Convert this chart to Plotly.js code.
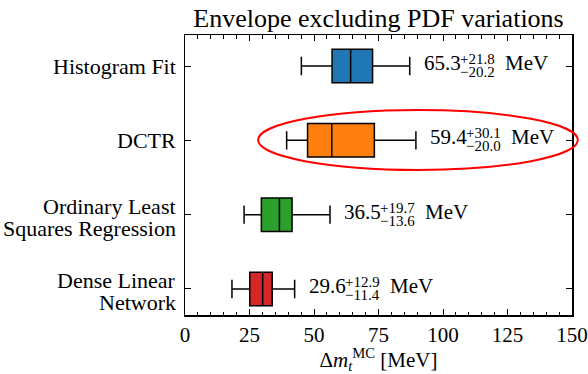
<!DOCTYPE html>
<html>
<head>
<meta charset="utf-8">
<script src="https://cdn.plot.ly/plotly-3.0.1.min.js"></script>
<style>html,body{margin:0;padding:0;background:#fff;}#chart{width:588px;height:374px;}</style>
</head>
<body>
<div id="chart"></div>
<script>
// Data (top to bottom in the picture)
const methods = ["Histogram Fit", "DCTR", "Ordinary Least Squares Regression", "Dense Linear Network"];
const labelLines = [["Histogram Fit"], ["DCTR"], ["Ordinary Least", "Squares Regression"], ["Dense Linear", "Network"]];
const colors = ["#1f77b4", "#ff7f0e", "#2ca02c", "#d62728"];
const central = [65.3, 59.4, 36.5, 29.6];
const plusErr = [21.8, 30.1, 19.7, 12.9];
const minusErr = [20.2, 20.0, 13.6, 11.4];
const q1 = [57.0, 47.5, 29.6, 25.1];
const median = [64.2, 56.9, 36.6, 30.1];
const q3 = [72.7, 73.4, 41.5, 33.8];
const xTicks = [0, 25, 50, 75, 100, 125, 150];

const FONT = "Liberation Serif, Times New Roman, serif";

const traces = methods.map((m, i) => ({
  type: "box",
  orientation: "h",
  y: [m],
  q1: [q1[i]],
  median: [median[i]],
  q3: [q3[i]],
  lowerfence: [central[i] - minusErr[i]],
  upperfence: [central[i] + plusErr[i]],
  width: 0.45,
  whiskerwidth: 0.55,
  fillcolor: colors[i],
  line: {color: "#000", width: 1.5},
  boxpoints: false,
  hoverinfo: "skip",
  showlegend: false
}));

const annotations = [];
methods.forEach((m, i) => {
  const xu = central[i] + plusErr[i];
  annotations.push({x: xu, y: m, xref: "x", yref: "y", text: central[i].toFixed(1),
    showarrow: false, xanchor: "left", yanchor: "middle", xshift: 12, yshift: 3,
    font: {family: FONT, size: 21, color: "#000"}});
  annotations.push({x: xu, y: m, xref: "x", yref: "y", text: "+" + plusErr[i].toFixed(1),
    showarrow: false, xanchor: "left", yanchor: "middle", xshift: 48, yshift: 7,
    font: {family: FONT, size: 15, color: "#000"}});
  annotations.push({x: xu, y: m, xref: "x", yref: "y", text: "\u2212" + minusErr[i].toFixed(1),
    showarrow: false, xanchor: "left", yanchor: "middle", xshift: 48, yshift: -6,
    font: {family: FONT, size: 15, color: "#000"}});
  annotations.push({x: xu, y: m, xref: "x", yref: "y", text: "MeV",
    showarrow: false, xanchor: "left", yanchor: "middle", xshift: 93, yshift: 3,
    font: {family: FONT, size: 21, color: "#000"}});
  // category labels (left of the axis), one annotation per line
  const lines = labelLines[i];
  const shifts = lines.length === 1 ? [0] : [8, -14];
  lines.forEach((ln, k) => {
    annotations.push({x: 0, y: m, xref: "paper", yref: "y", text: ln,
      showarrow: false, xanchor: "right", yanchor: "middle", xshift: -7, yshift: shifts[k],
      font: {family: FONT, size: 22, color: "#000"}});
  });
});

const layout = {
  width: 588, height: 374,
  margin: {l: 185, r: 16, t: 35, b: 59, pad: 0},
  paper_bgcolor: "#fff", plot_bgcolor: "#fff",
  font: {family: FONT, size: 21, color: "#000"},
  title: {text: "Envelope excluding PDF variations", font: {family: FONT, size: 26, color: "#000"},
    x: 0.5, xref: "paper", xanchor: "center", y: 0.952, yanchor: "middle"},
  boxmode: "overlay",
  xaxis: {
    range: [0, 150], tickvals: xTicks, ticktext: xTicks.map(String),
    ticks: "inside", ticklen: 6, tickwidth: 1, tickcolor: "#000",
    minor: {dtick: 5, ticks: "inside", ticklen: 3.5, tickwidth: 1, tickcolor: "#000"},
    showline: true, linecolor: "#000", linewidth: 1.5, mirror: "ticks",
    showgrid: false, zeroline: false,
    tickfont: {family: FONT, size: 21, color: "#000"},
    title: {text: "\u0394<i>m</i><sub><i>t</i></sub><sup>MC</sup> [MeV]", font: {family: FONT, size: 21, color: "#000"}, standoff: 6}
  },
  yaxis: {
    type: "category", categoryorder: "array", categoryarray: methods.slice().reverse(),
    range: [-0.35, 3.417],
    ticks: "inside", ticklen: 6, tickwidth: 1, tickcolor: "#000",
    showline: true, linecolor: "#000", linewidth: 1.5, mirror: "ticks",
    showgrid: false, zeroline: false, showticklabels: false
  },
  shapes: [{type: "circle", xref: "paper", yref: "paper", x0: 0.189, x1: 1.015, y0: 0.518, y1: 0.732,
    line: {color: "#ff0000", width: 2}, fillcolor: "rgba(0,0,0,0)", layer: "above"}],
  annotations: annotations
};

Plotly.newPlot("chart", traces, layout, {displayModeBar: false, staticPlot: true});
</script>
</body>
</html>
